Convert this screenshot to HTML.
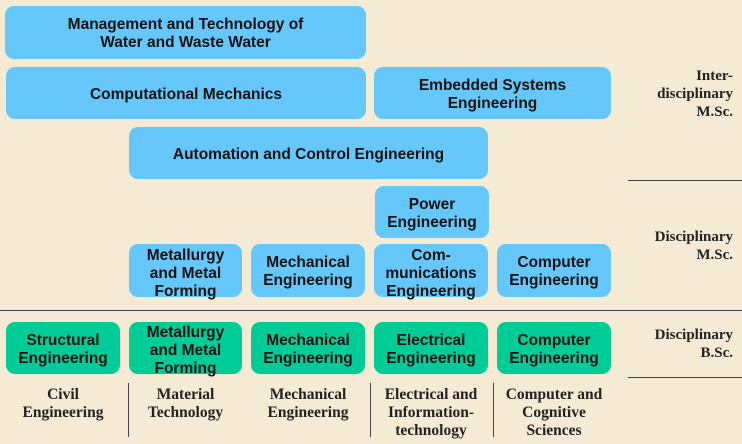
<!DOCTYPE html>
<html><head><style>
body{margin:0;width:742px;height:444px;background:#f5ebd5;position:relative;overflow:hidden;font-family:"Liberation Sans",sans-serif}
.b{position:absolute;border-radius:9px;display:flex;align-items:center;justify-content:center;text-align:center;font-weight:bold;font-size:15.5px;line-height:18px;color:#111;box-sizing:border-box;padding-top:3px}
.u{background:#66c8fa}
.g{background:#00cc98}
.l{position:absolute;font-family:"Liberation Serif",serif;font-weight:bold;font-size:15.5px;line-height:18px;color:#222;text-align:center}
.r{position:absolute;font-family:"Liberation Serif",serif;font-weight:bold;font-size:15px;line-height:18px;color:#222;text-align:right;right:9px}
.h{position:absolute;height:1px;background:#444}
.v{position:absolute;width:1px;background:#444;top:383px;height:54px}
</style></head><body>
<div class="b u" style="left:5px;top:6px;width:361px;height:53px">Management and Technology of<br>Water and Waste Water</div>
<div class="b u" style="left:6px;top:67px;width:360px;height:52px">Computational Mechanics</div>
<div class="b u" style="left:374px;top:67px;width:237px;height:52px">Embedded Systems<br>Engineering</div>
<div class="b u" style="left:129px;top:127px;width:359px;height:52px">Automation and Control Engineering</div>
<div class="b u" style="left:375px;top:186px;width:114px;height:52px">Power<br>Engineering</div>
<div class="b u" style="left:129px;top:244px;width:113px;height:53px;padding-top:6px">Metallurgy<br>and Metal<br>Forming</div>
<div class="b u" style="left:251px;top:244px;width:114px;height:53px">Mechanical<br>Engineering</div>
<div class="b u" style="left:374px;top:244px;width:114px;height:53px;padding-top:6px">Com-<br>munications<br>Engineering</div>
<div class="b u" style="left:497px;top:244px;width:114px;height:53px">Computer<br>Engineering</div>
<div class="h" style="left:0;top:310px;width:742px"></div>
<div class="b g" style="left:6px;top:322px;width:114px;height:52px">Structural<br>Engineering</div>
<div class="b g" style="left:129px;top:322px;width:113px;height:52px;padding-top:6px">Metallurgy<br>and Metal<br>Forming</div>
<div class="b g" style="left:251px;top:322px;width:114px;height:52px">Mechanical<br>Engineering</div>
<div class="b g" style="left:374px;top:322px;width:114px;height:52px">Electrical<br>Engineering</div>
<div class="b g" style="left:497px;top:322px;width:114px;height:52px">Computer<br>Engineering</div>
<div class="r" style="top:67px">Inter-<br>disciplinary<br>M.Sc.</div>
<div class="h" style="left:628px;top:180px;width:114px"></div>
<div class="r" style="top:228px">Disciplinary<br>M.Sc.</div>
<div class="r" style="top:326px">Disciplinary<br>B.Sc.</div>
<div class="h" style="left:628px;top:377px;width:114px"></div>
<div class="l" style="left:4px;top:386px;width:118px">Civil<br>Engineering</div>
<div class="l" style="left:127px;top:386px;width:117px">Material<br>Technology</div>
<div class="l" style="left:249px;top:386px;width:118px">Mechanical<br>Engineering</div>
<div class="l" style="left:369px;top:386px;width:124px">Electrical and<br>Information-<br>technology</div>
<div class="l" style="left:491px;top:386px;width:126px">Computer and<br>Cognitive<br>Sciences</div>
<div class="v" style="left:128px"></div>
<div class="v" style="left:370px"></div>
<div class="v" style="left:493px"></div>
</body></html>
